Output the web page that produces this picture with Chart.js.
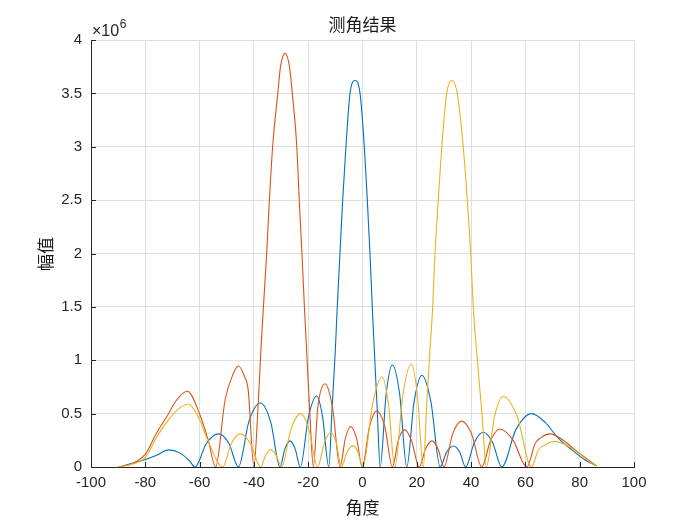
<!DOCTYPE html>
<html>
<head>
<meta charset="utf-8">
<script src="https://cdn.jsdelivr.net/npm/chart.js@4.4.1/dist/chart.umd.min.js"></script>
<style>
  html, body { margin: 0; padding: 0; background: #ffffff; }
  #wrap { width: 700px; height: 525px; }
</style>
</head>
<body>
<div id="wrap"><canvas id="chart" width="700" height="525"></canvas></div>
<script>
// values (amplitude in units of 1e6)
const blueAngle = [-89.5, -86.9, -80, -75.8, -71.5, -67.2, -63.8, -61.7, -57.5, -53.1, -49.2, -45.7,
  -41.8, -37.6, -33.8, -30.4, -28.6, -26.7, -24.8, -22.9, -19.9, -16.9, -14.7, -12.4, -11.2,
  -10.0, -9.3, -8.3, -7.3, -6.1, -4.6, -2.76, -0.9, 0.67, 1.77, 2.76, 3.6, 4.35, 5.4, 6.5,
  8.7, 11.0, 13.7, 16.3, 19.0, 21.9, 25.2, 28.6, 31.0, 33.5, 35.8, 38.0, 41.2, 44.5, 47.9,
  51.3, 56.5, 62.3, 67.2, 72.1, 77.1, 82.0, 85.9];
const blueAmp = [0, 0.02, 0.07, 0.11, 0.16, 0.13, 0.06, 0, 0.22, 0.31, 0.22, 0,
  0.43, 0.60, 0.42, 0, 0.17, 0.245, 0.17, 0, 0.47, 0.665, 0.47, 0, 0.55,
  1.1, 1.5, 2.0, 2.5, 3.0, 3.5, 3.62, 3.5, 3.0, 2.5, 2.0, 1.5, 1.1, 0.55, 0,
  0.68, 0.955, 0.68, 0, 0.61, 0.86, 0.61, 0, 0.14, 0.197, 0.14, 0, 0.23, 0.325, 0.23,
  0, 0.35, 0.50, 0.42, 0.27, 0.16, 0.066, 0.015];

const redAngle = [-89.9, -84.4, -80, -75.8, -72.1, -68.4, -64.5, -59.9, -56.8, -54.1, -50.6, -47.5,
  -45.7, -43.5, -42.1, -40.0, -38.5, -37.4, -36.5, -35.3, -34.3, -33.1, -31.2, -30.2, -28.5,
  -26.9, -25.85, -24.2, -23.3, -22.3, -21.4, -20.6, -19.4, -18.1, -16.5, -13.8, -11.0, -8.3,
  -6.3, -4.4, -2.2, -0.1, 2.6, 5.2, 8.2, 11.0, 13.2, 15.5, 18.0, 20.9, 23.2, 25.6, 27.8,
  30.0, 33.2, 36.5, 40.2, 43.9, 47.2, 50.6, 55.5, 60.5, 63.6, 66.0, 69.1, 73.4, 78.3, 83.2,
  86.3];
const redAmp = [0, 0.035, 0.12, 0.32, 0.47, 0.63, 0.71, 0.49, 0.25, 0, 0.63, 0.88,
  0.946, 0.85, 0.72, 0, 0.55, 1.1, 1.5, 2.0, 2.5, 3.0, 3.5, 3.75, 3.875,
  3.75, 3.5, 3.0, 2.5, 2.0, 1.5, 1.1, 0.5, 0, 0.55, 0.78, 0.55, 0,
  0.27, 0.38, 0.27, 0, 0.38, 0.525, 0.38, 0, 0.25, 0.35, 0.25, 0, 0.17, 0.245, 0.17,
  0, 0.31, 0.43, 0.31, 0, 0.25, 0.356, 0.25, 0, 0.22, 0.28, 0.31, 0.26, 0.16, 0.066,
  0.01];

const yellowAngle = [-89.9, -84.4, -80, -75.8, -72.1, -68.4, -64.2, -60.5, -56.8, -51.5, -48.3, -45.1,
  -41.3, -37.5, -35.7, -33.8, -31.8, -29.8, -26.4, -22.8, -19.7, -16.6, -14.0, -11.7, -9.7,
  -7.8, -5.7, -3.6, -1.7, 0.1, 3.8, 7.2, 9.5, 11.9, 14.9, 17.9, 20.2, 22.4, 23.6, 24.6,
  25.85, 26.7, 27.9, 29.2, 31.0, 32.85, 34.9, 37.1, 38.6, 39.85, 40.8, 42.3, 44.0, 45.6,
  48.6, 51.9, 57.0, 62.2, 64.8, 67.5, 70.5, 74.6, 79.5, 84.4, 86.3];
const yellowAmp = [0, 0.03, 0.09, 0.28, 0.42, 0.53, 0.59, 0.47, 0.24, 0, 0.22, 0.31,
  0.22, 0, 0.11, 0.16, 0.11, 0, 0.35, 0.50, 0.35, 0, 0.23, 0.325, 0.23,
  0, 0.14, 0.20, 0.14, 0, 0.6, 0.845, 0.6, 0, 0.68, 0.965, 0.68, 0, 0.55, 1.0,
  1.5, 2.0, 2.5, 3.0, 3.5, 3.62, 3.5, 3.0, 2.5, 2.0, 1.5, 1.0, 0.5, 0,
  0.47, 0.66, 0.47, 0, 0.16, 0.21, 0.24, 0.21, 0.13, 0.035, 0.01];

const xTickValues = [-100, -80, -60, -40, -20, 0, 20, 40, 60, 80, 100];
const yTickValues = [0, 0.5, 1, 1.5, 2, 2.5, 3, 3.5, 4];

const axisColor = '#262626';
const gridColor = '#dfdfdf';
const tickFont = { family: 'Liberation Sans, Arial, sans-serif', size: 15 };
const cjkFont = '"Noto Sans CJK SC", sans-serif';

function toPoints(angles, amps) {
  return angles.map((a, i) => ({ x: a, y: amps[i] }));
}

// Text labels and inward tick marks, MATLAB style
const decorPlugin = {
  id: 'decor',
  afterDraw(chart) {
    const ctx = chart.ctx;
    const area = chart.chartArea;
    const xs = chart.scales.x;
    const ys = chart.scales.y;
    ctx.save();
    ctx.strokeStyle = axisColor;
    ctx.lineWidth = 1;
    ctx.beginPath();
    xTickValues.forEach(v => {
      const px = Math.round(xs.getPixelForValue(v)) + 0.5;
      ctx.moveTo(px, area.bottom);
      ctx.lineTo(px, area.bottom - 5);
    });
    yTickValues.forEach(v => {
      const py = Math.round(ys.getPixelForValue(v)) + 0.5;
      ctx.moveTo(area.left, py);
      ctx.lineTo(area.left + 5, py);
    });
    ctx.stroke();

    ctx.fillStyle = '#1a1a1a';
    ctx.textAlign = 'center';
    ctx.textBaseline = 'middle';
    ctx.font = '17px ' + cjkFont;
    ctx.fillText('测角结果', (area.left + area.right) / 2, 25);
    ctx.fillText('角度', (area.left + area.right) / 2, 508);
    ctx.save();
    ctx.translate(46, 254);
    ctx.rotate(-Math.PI / 2);
    ctx.fillText('幅值', 0, 0);
    ctx.restore();

    // exponent label
    ctx.fillStyle = axisColor;
    ctx.textAlign = 'left';
    ctx.textBaseline = 'alphabetic';
    ctx.font = '16px Liberation Sans, Arial, sans-serif';
    ctx.fillText('\u00d710', 92, 36);
    const w = ctx.measureText('\u00d710').width;
    ctx.font = '12px Liberation Sans, Arial, sans-serif';
    ctx.fillText('6', 92 + w + 0.5, 28);
    ctx.restore();
  }
};

new Chart(document.getElementById('chart'), {
  type: 'line',
  data: {
    datasets: [
      { label: 'blue', data: toPoints(blueAngle, blueAmp), borderColor: '#0072BD', order: 2 },
      { label: 'red', data: toPoints(redAngle, redAmp), borderColor: '#D95319', order: 1 },
      { label: 'yellow', data: toPoints(yellowAngle, yellowAmp), borderColor: '#EDB120', order: 0 }
    ]
  },
  options: {
    responsive: false,
    animation: false,
    devicePixelRatio: 1,
    parsing: false,
    layout: { padding: { left: 0, top: 40, right: 66, bottom: 0 } },
    elements: {
      line: { borderWidth: 1.1, cubicInterpolationMode: 'monotone', fill: false },
      point: { radius: 0 }
    },
    plugins: {
      legend: { display: false },
      tooltip: { enabled: false },
      title: { display: false }
    },
    scales: {
      x: {
        type: 'linear',
        min: -100,
        max: 100,
        afterBuildTicks: s => { s.ticks = xTickValues.map(v => ({ value: v })); },
        afterFit: s => { s.height = 58; },
        grid: { color: gridColor, drawTicks: false },
        border: { color: axisColor, width: 1 },
        ticks: {
          padding: 7,
          color: axisColor,
          font: tickFont,
          maxRotation: 0,
          autoSkip: false,
          callback: v => (v < 0 ? '-' + Math.abs(v) : String(v))
        }
      },
      y: {
        type: 'linear',
        min: 0,
        max: 4,
        afterBuildTicks: s => { s.ticks = yTickValues.map(v => ({ value: v })); },
        afterFit: s => { s.width = 91; },
        grid: { color: gridColor, drawTicks: false },
        border: { color: axisColor, width: 1 },
        ticks: {
          padding: 9,
          color: axisColor,
          font: tickFont,
          autoSkip: false,
          callback: v => String(v)
        }
      }
    }
  },
  plugins: [decorPlugin]
});
</script>
</body>
</html>
